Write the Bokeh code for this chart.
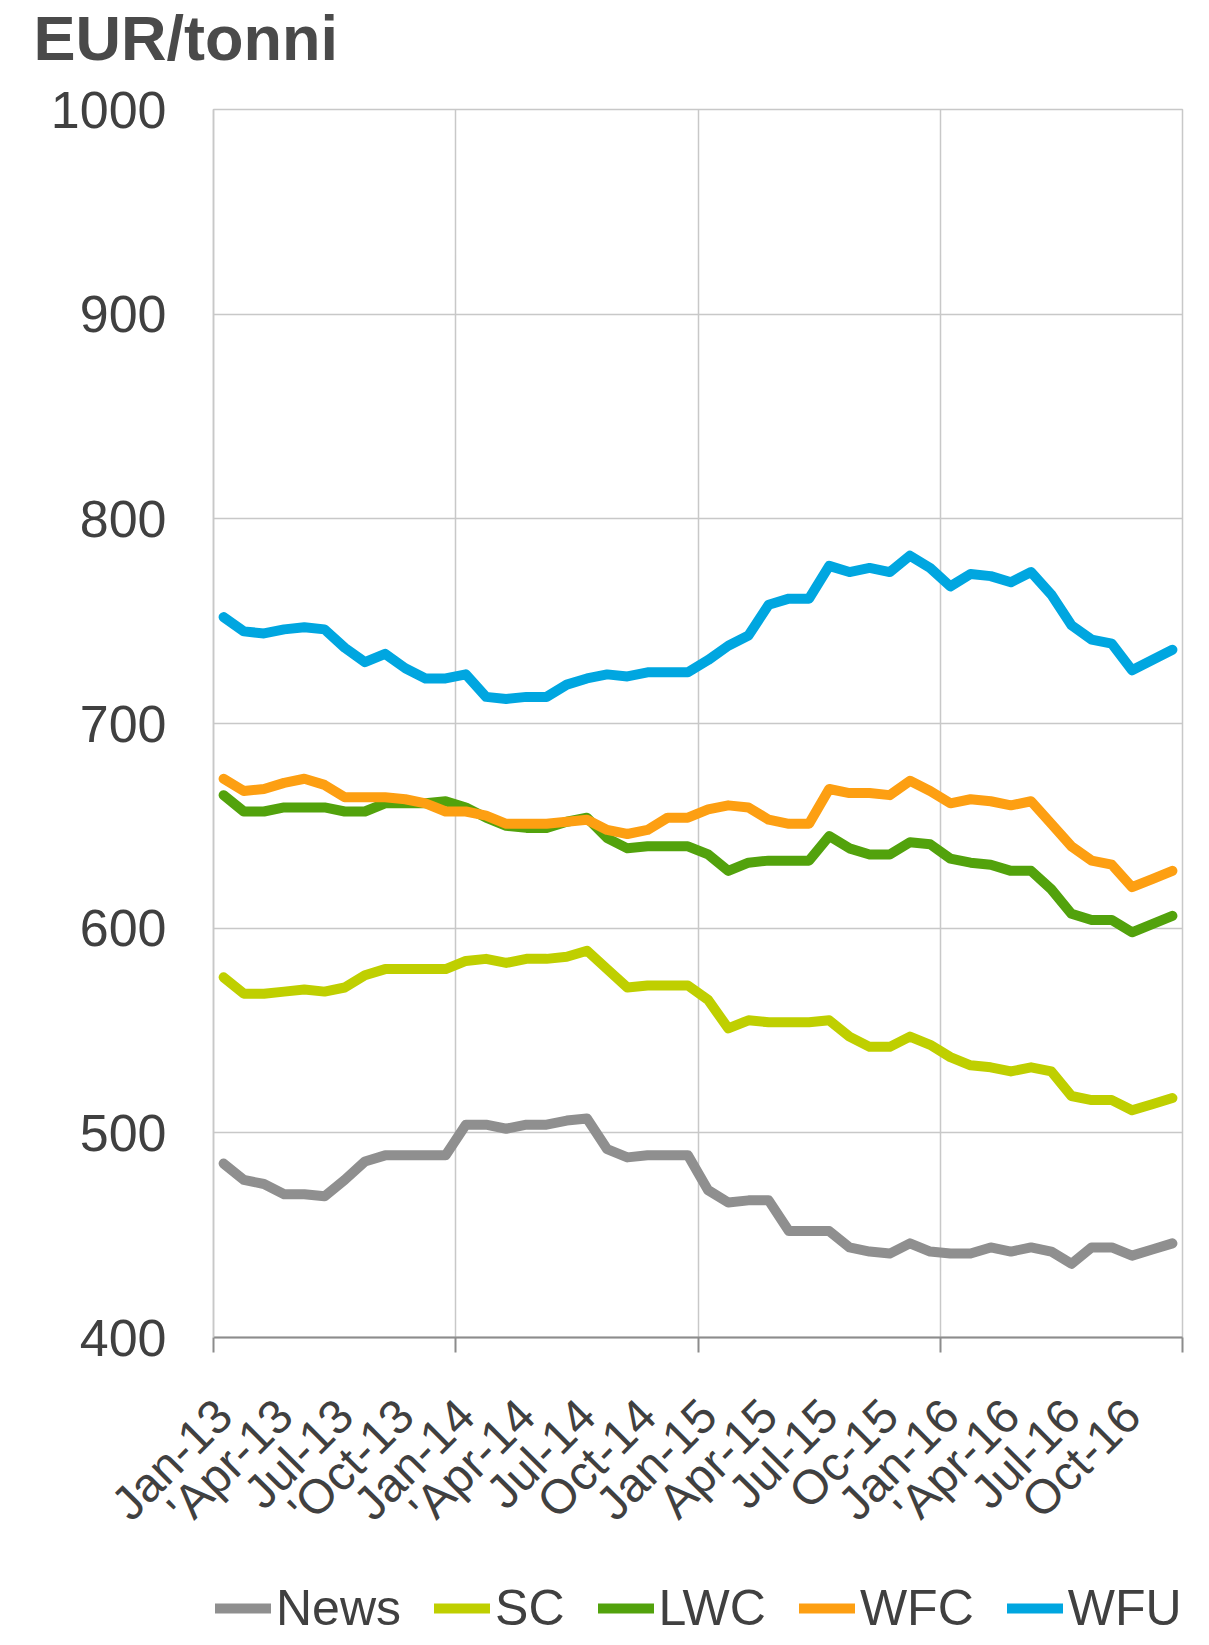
from bokeh.plotting import figure
from bokeh.models import Range1d, FixedTicker, Legend, LegendItem, Title
from bokeh.layouts import column
from bokeh.embed import file_html
from bokeh.resources import INLINE

# ---- data (monthly, Jan-13 .. Dec-16) ----
months = [f"{m}-{y}" for y in ("13", "14", "15", "16")
          for m in ("Jan", "Feb", "Mar", "Apr", "May", "Jun",
                    "Jul", "Aug", "Sep", "Oct", "Nov", "Dec")]

news = [485, 477, 475, 470, 470, 469, 477, 486, 489, 489, 489, 489,
        504, 504, 502, 504, 504, 506, 507, 492, 488, 489, 489, 489,
        472, 466, 467, 467, 452, 452, 452, 444, 442, 441, 446, 442,
        441, 441, 444, 442, 444, 442, 436, 444, 444, 440, 443, 446]

sc = [576, 568, 568, 569, 570, 569, 571, 577, 580, 580, 580, 580,
      584, 585, 583, 585, 585, 586, 589, 580, 571, 572, 572, 572,
      565, 551, 555, 554, 554, 554, 555, 547, 542, 542, 547, 543,
      537, 533, 532, 530, 532, 530, 518, 516, 516, 511, 514, 517]

lwc = [665, 657, 657, 659, 659, 659, 657, 657, 661, 661, 661, 662,
       659, 654, 650, 649, 649, 652, 654, 644, 639, 640, 640, 640,
       636, 628, 632, 633, 633, 633, 645, 639, 636, 636, 642, 641,
       634, 632, 631, 628, 628, 619, 607, 604, 604, 598, 602, 606]

wfc = [673, 667, 668, 671, 673, 670, 664, 664, 664, 663, 661, 657,
       657, 655, 651, 651, 651, 652, 653, 648, 646, 648, 654, 654,
       658, 660, 659, 653, 651, 651, 668, 666, 666, 665, 672, 667,
       661, 663, 662, 660, 662, 651, 640, 633, 631, 620, 624, 628]

wfu = [752, 745, 744, 746, 747, 746, 737, 730, 734, 727, 722, 722,
       724, 713, 712, 713, 713, 719, 722, 724, 723, 725, 725, 725,
       731, 738, 743, 758, 761, 761, 777, 774, 776, 774, 782, 776,
       767, 773, 772, 769, 774, 763, 748, 741, 739, 726, 731, 736]

series_names = ["News", "SC", "LWC", "WFC", "WFU"]
series_values = [news, sc, lwc, wfc, wfu]
series_colors = ["#8f8f8f", "#bfcf00", "#52a20c", "#fd9f12", "#00a6e0"]

tick_positions = list(range(0, 48, 3))
tick_labels = ["Jan-13", "'Apr-13", "Jul-13", "'Oct-13", "Jan-14", "'Apr-14",
               "Jul-14", "Oct-14", "Jan-15", "Apr-15", "Jul-15", "Oc-15",
               "Jan-16", "'Apr-16", "Jul-16", "Oct-16"]
year_boundaries = [-0.5, 11.5, 23.5, 35.5, 47.5]
y_ticks = [400, 500, 600, 700, 800, 900, 1000]

FONT = "Liberation Sans"
TXT = "#404040"
GRID = "#c8c8c8"
W = 1201
LW = 10
xs = list(range(len(months)))


def bare(height):
    f = figure(width=W, height=height, output_backend="svg",
               toolbar_location=None, x_axis_location=None,
               y_axis_location=None, min_border=0,
               x_range=Range1d(1000, 1001), y_range=Range1d(0, 1))
    f.outline_line_color = None
    f.grid.visible = False
    f.background_fill_color = "white"
    f.border_fill_color = "white"
    return f


# ---- header strip with the unit title ----
head = bare(80)
head.title = Title(text="EUR/tonni", align="left", offset=-180, standoff=0,
                   text_font=FONT, text_font_size="63px",
                   text_font_style="bold", text_color="#4a4a4a")

# ---- main chart ----
p = figure(width=W, height=1477, output_backend="svg", toolbar_location=None,
           x_range=Range1d(-0.5, 47.5), y_range=Range1d(400, 1000),
           min_border_left=213, min_border_right=19,
           min_border_top=29, min_border_bottom=220)
p.background_fill_color = "white"
p.border_fill_color = "white"
p.outline_line_color = GRID
p.outline_line_width = 1.5

p.xaxis.ticker = FixedTicker(ticks=tick_positions, minor_ticks=year_boundaries)
p.xaxis.major_label_overrides = {t: l for t, l in zip(tick_positions, tick_labels)}
p.xaxis.major_label_orientation = 0.785398
p.xaxis.major_tick_line_color = None
p.xaxis.major_tick_out = 0
p.xaxis.major_tick_in = 0
p.xaxis.minor_tick_line_color = "#8c8c8c"
p.xaxis.minor_tick_line_width = 2
p.xaxis.minor_tick_out = 15
p.xaxis.minor_tick_in = 0
p.xaxis.axis_line_color = "#8c8c8c"
p.xaxis.axis_line_width = 2
p.xaxis.major_label_text_font = FONT
p.xaxis.major_label_text_font_size = "48px"
p.xaxis.major_label_text_color = TXT
p.xaxis.major_label_standoff = 55

p.yaxis.ticker = FixedTicker(ticks=y_ticks)
p.yaxis.major_tick_line_color = None
p.yaxis.major_tick_out = 0
p.yaxis.major_tick_in = 0
p.yaxis.minor_tick_line_color = None
p.yaxis.axis_line_color = GRID
p.yaxis.axis_line_width = 1.5
p.yaxis.major_label_text_font = FONT
p.yaxis.major_label_text_font_size = "52px"
p.yaxis.major_label_text_color = TXT
p.yaxis.major_label_standoff = 47

p.xgrid.ticker = FixedTicker(ticks=year_boundaries)
p.xgrid.grid_line_color = GRID
p.xgrid.grid_line_width = 1.5
p.ygrid.grid_line_color = GRID
p.ygrid.grid_line_width = 1.5

for name, vals, col in zip(series_names, series_values, series_colors):
    p.line(xs, vals, line_color=col, line_width=LW, line_join="round",
           line_cap="round")

# ---- legend strip (its lines lie outside its own ranges; only keys show) ----
leg = bare(80)
items = []
for name, vals, col in zip(series_names, series_values, series_colors):
    r = leg.line(xs, vals, line_color=col, line_width=LW, line_cap="round")
    items.append(LegendItem(label=name, renderers=[r]))
legend = Legend(items=items, orientation="horizontal", location=(2, 0),
                glyph_width=56, glyph_height=20, label_standoff=5, spacing=33,
                padding=0, margin=0, border_line_color=None,
                background_fill_alpha=0,
                label_text_font=FONT, label_text_font_size="50px",
                label_text_color=TXT)
leg.add_layout(legend, "center")

layout = column(head, p, leg, spacing=0)
open("out.html", "w").write(file_html(layout, INLINE))
